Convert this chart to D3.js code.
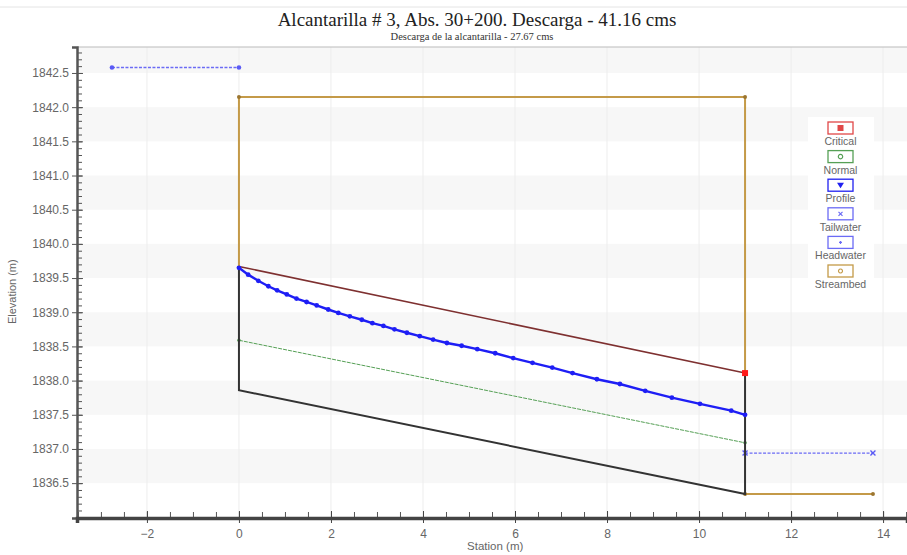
<!DOCTYPE html>
<html>
<head>
<meta charset="utf-8">
<script src="https://cdn.jsdelivr.net/npm/d3@7"></script>
<style>
  body { margin: 0; background: #fff; }
  text { font-family: "Liberation Sans", Arial, sans-serif; }
</style>
</head>
<body>
<div id="culvert_profile"></div>
<script>
// values
var profileStation = [0, 0.2, 0.42, 0.64, 0.83, 1.04, 1.25, 1.47, 1.69, 1.94, 2.16, 2.41, 2.67, 2.9, 3.14, 3.38, 3.65, 3.93, 4.22, 4.52, 4.84, 5.18, 5.57, 5.96, 6.38, 6.81, 7.25, 7.78, 8.28, 8.83, 9.41, 10.02, 10.7, 11.0];
var profileElev = [1839.65, 1839.55, 1839.46, 1839.38, 1839.32, 1839.26, 1839.20, 1839.15, 1839.10, 1839.04, 1838.99, 1838.94, 1838.89, 1838.84, 1838.80, 1838.75, 1838.70, 1838.65, 1838.60, 1838.55, 1838.51, 1838.46, 1838.40, 1838.33, 1838.26, 1838.19, 1838.11, 1838.02, 1837.95, 1837.85, 1837.75, 1837.66, 1837.56, 1837.50];

var culvertStation = [0, 0, 11, 11];
var culvertElev = [1839.67, 1837.86, 1836.34, 1838.11];
var crownStation = [0, 11];
var crownElev = [1839.67, 1838.11];

var normalStation = [0, 11];
var normalElev = [1838.59, 1837.09];
var criticalStation = [11];
var criticalElev = [1838.11];

var headwaterStation = [-2.76, 0];
var headwaterElev = [1842.58, 1842.58];
var tailwaterStation = [11, 13.78];
var tailwaterElev = [1836.94, 1836.94];

var roadStation = [0, 0, 11, 11];
var roadElev = [1839.67, 1842.15, 1842.15, 1838.11];
var channelStation = [11, 13.78];
var channelElev = [1836.34, 1836.34];

var legendLabels = ["Critical", "Normal", "Profile", "Tailwater", "Headwater", "Streambed"];
var legendColors = ["#e04848", "#56a056", "#2020f0", "#6b6bf5", "#6b6bf5", "#c49a48"];

var xTicks = [-2, 0, 2, 4, 6, 8, 10, 12, 14];
var yTicks = [1836.5, 1837.0, 1837.5, 1838.0, 1838.5, 1839.0, 1839.5, 1840.0, 1840.5, 1841.0, 1841.5, 1842.0, 1842.5];

var margin = {top: 47, right: 0, bottom: 37, left: 77},
    width = 907 - margin.left - margin.right,
    height = 555 - margin.top - margin.bottom

var root = d3.select("#culvert_profile")
    .append("svg")
        .attr("width", 907)
        .attr("height", 555)

// thin frame line at the top of the picture
root.append("line")
    .attr("x1", 0).attr("x2", 907)
    .attr("y1", 7).attr("y2", 7)
    .attr("stroke", "#e4e4e4")

root.append("text")
    .attr("x", 477).attr("y", 26)
    .attr("text-anchor", "middle")
    .style("font-family", "'Liberation Serif', 'Times New Roman', serif")
    .style("font-size", "19px")
    .attr("fill", "#222")
    .text("Alcantarilla # 3, Abs. 30+200. Descarga - 41.16 cms")

root.append("text")
    .attr("x", 472).attr("y", 40)
    .attr("text-anchor", "middle")
    .style("font-family", "'Liberation Serif', 'Times New Roman', serif")
    .style("font-size", "10.5px")
    .attr("fill", "#333")
    .text("Descarga de la alcantarilla - 27.67 cms")

var svg = root.append("g")
    .attr("transform", "translate(" + margin.left + "," + margin.top + ")");

var x = d3.scaleLinear().domain([-3.52, 14.52]).range([0, width]);
var y = d3.scaleLinear().domain([1835.99, 1842.88]).range([height, 0]);

// alternating bands
var bandEdges = [y.domain()[1]].concat(yTicks.slice().reverse());
for (var i = 0; i < bandEdges.length - 1; i++) {
    if (i % 2 == 0) {
        svg.append("rect")
            .attr("x", 0)
            .attr("width", width)
            .attr("y", y(bandEdges[i]))
            .attr("height", y(bandEdges[i + 1]) - y(bandEdges[i]))
            .attr("fill", "#f7f7f7")
    }
}

// vertical grid
svg.selectAll(".vgrid")
    .data(xTicks)
    .enter()
    .append("line")
        .attr("x1", function(d) { return x(d) })
        .attr("x2", function(d) { return x(d) })
        .attr("y1", 0).attr("y2", height)
        .attr("stroke", "#ededed")

svg.append("line")
    .attr("x1", 0).attr("x2", width)
    .attr("y1", 0).attr("y2", 0)
    .attr("stroke", "#bbb")

var line = d3.line()
    .x(function(d) { return x(d[0]) })
    .y(function(d) { return y(d[1]) });

function pts(xs, ys) { return xs.map(function(v, i) { return [v, ys[i]] }) }

// headwater and tailwater
svg.append("path")
    .datum(pts(headwaterStation, headwaterElev))
    .attr("d", line)
    .attr("fill", "none")
    .attr("stroke", "#6b6bf5")
    .attr("stroke-width", 1.3)
    .attr("stroke-dasharray", "3,1.5")
svg.selectAll(".hw")
    .data(pts(headwaterStation, headwaterElev))
    .enter()
    .append("circle")
        .attr("cx", function(d) { return x(d[0]) })
        .attr("cy", function(d) { return y(d[1]) })
        .attr("r", 2.3)
        .attr("fill", "#5a5af5")

svg.append("path")
    .datum(pts(tailwaterStation, tailwaterElev))
    .attr("d", line)
    .attr("fill", "none")
    .attr("stroke", "#6b6bf5")
    .attr("stroke-width", 1.3)
    .attr("stroke-dasharray", "3,1.5")
svg.selectAll(".tw")
    .data(pts(tailwaterStation, tailwaterElev))
    .enter()
    .append("path")
        .attr("transform", function(d) { return "translate(" + x(d[0]) + "," + y(d[1]) + ")" })
        .attr("d", "M-2.5,-2.5L2.5,2.5M-2.5,2.5L2.5,-2.5")
        .attr("stroke", "#5a5af5")
        .attr("stroke-width", 1.3)

// streambed / embankment
svg.append("path")
    .datum(pts(roadStation, roadElev))
    .attr("d", line)
    .attr("fill", "none")
    .attr("stroke", "#c49a48")
    .attr("stroke-width", 2)
svg.append("path")
    .datum(pts(channelStation, channelElev))
    .attr("d", line)
    .attr("fill", "none")
    .attr("stroke", "#c49a48")
    .attr("stroke-width", 2)
svg.selectAll(".sb")
    .data(pts(roadStation, roadElev).slice(1, 3).concat(pts(channelStation, channelElev)))
    .enter()
    .append("circle")
        .attr("cx", function(d) { return x(d[0]) })
        .attr("cy", function(d) { return y(d[1]) })
        .attr("r", 2)
        .attr("fill", "#9c7630")

// normal depth
svg.append("path")
    .datum(pts(normalStation, normalElev))
    .attr("d", line)
    .attr("fill", "none")
    .attr("stroke", "#56a056")
    .attr("stroke-width", 1)
    .attr("stroke-dasharray", "4,1")
svg.selectAll(".nd")
    .data(pts(normalStation, normalElev))
    .enter()
    .append("circle")
        .attr("cx", function(d) { return x(d[0]) })
        .attr("cy", function(d) { return y(d[1]) })
        .attr("r", 1.8)
        .attr("fill", "#56a056")

// culvert barrel
svg.append("path")
    .datum(pts(culvertStation, culvertElev))
    .attr("d", line)
    .attr("fill", "none")
    .attr("stroke", "#333")
    .attr("stroke-width", 2)
svg.append("path")
    .datum(pts(crownStation, crownElev))
    .attr("d", line)
    .attr("fill", "none")
    .attr("stroke", "#7e3030")
    .attr("stroke-width", 1.6)

// water surface profile
svg.append("path")
    .datum(pts(profileStation, profileElev))
    .attr("d", line)
    .attr("fill", "none")
    .attr("stroke", "#1e1ef5")
    .attr("stroke-width", 2.4)
svg.selectAll(".pr")
    .data(pts(profileStation, profileElev))
    .enter()
    .append("circle")
        .attr("cx", function(d) { return x(d[0]) })
        .attr("cy", function(d) { return y(d[1]) })
        .attr("r", 2.4)
        .attr("fill", "#1e1ef5")

svg.selectAll(".cr")
    .data(pts(criticalStation, criticalElev))
    .enter()
    .append("rect")
        .attr("x", function(d) { return x(d[0]) - 3 })
        .attr("y", function(d) { return y(d[1]) - 3 })
        .attr("width", 6).attr("height", 6)
        .attr("fill", "#ff1a1a")

// axes
var yMinor = d3.range(18360, 18429).map(function(v) { return v / 10 });
var xMinor = d3.range(-7, 30).map(function(v) { return v / 2 });

svg.append("g")
    .call(d3.axisLeft(y).tickValues(yMinor).tickSize(-5).tickFormat(""))
    .call(function(g) { g.select(".domain").remove() })
    .selectAll("line").attr("stroke", "#555")

svg.append("g")
    .call(d3.axisLeft(y).tickValues(yTicks).tickSize(5).tickPadding(3).tickFormat(d3.format(".1f")))
    .call(function(g) {
        g.select(".domain").attr("stroke", "#555").attr("stroke-width", 2.5)
        g.selectAll("line").attr("stroke", "#555").attr("x2", -5).attr("x1", 6)
        g.selectAll("text").attr("fill", "#666").style("font-size", "12px")
    })

svg.append("g")
    .attr("transform", "translate(0," + height + ")")
    .call(d3.axisBottom(x).tickValues(xMinor).tickSize(-6).tickFormat(""))
    .call(function(g) { g.select(".domain").remove() })
    .selectAll("line").attr("stroke", "#555")

svg.append("g")
    .attr("transform", "translate(0," + height + ")")
    .call(d3.axisBottom(x).tickValues(xTicks).tickSize(5).tickPadding(6).tickFormat(d3.format("d")))
    .call(function(g) {
        g.select(".domain").attr("stroke", "#444").attr("stroke-width", 3.5)
        g.selectAll("line").attr("stroke", "#444").attr("y1", -7).attr("y2", 5)
        g.selectAll("text").attr("fill", "#666").style("font-size", "12px")
    })

svg.append("text")
    .attr("text-anchor", "middle")
    .attr("x", x(5.57))
    .attr("y", height + 32)
    .attr("fill", "#666")
    .style("font-size", "11.5px")
    .text("Station (m)")

svg.append("text")
    .attr("text-anchor", "middle")
    .attr("transform", "translate(" + (-61) + "," + y(1839.3) + ") rotate(-90)")
    .attr("fill", "#666")
    .style("font-size", "11px")
    .text("Elevation (m)")

// legend
var legend = svg.append("g")
    .attr("transform", "translate(" + (808 - margin.left) + "," + (117 - margin.top) + ")");

legend.append("rect")
    .attr("width", 66).attr("height", 178)
    .attr("fill", "#fff")

var item = legend.selectAll(".item")
    .data(legendLabels)
    .enter()
    .append("g")
        .attr("transform", function(d, i) { return "translate(0," + (i * 28.6) + ")" });

item.append("rect")
    .attr("x", 20).attr("y", 5)
    .attr("width", 25).attr("height", 12)
    .attr("fill", "#fff")
    .attr("stroke", function(d, i) { return legendColors[i] })
    .attr("stroke-width", 1.3)

item.append("text")
    .attr("x", 32.5).attr("y", 28)
    .attr("text-anchor", "middle")
    .attr("fill", "#666")
    .style("font-size", "10.5px")
    .text(function(d) { return d })

var sym = [
    "M-3,-3h6v6h-6z",
    "M0,-2.2a2.2,2.2 0 1,0 0.01,0",
    "M-3.5,-2.5L3.5,-2.5L0,3z",
    "M-2,-2L2,2M-2,2L2,-2",
    "M-1.5,0H1.5M0,-1.5V1.5",
    "M0,-2a2,2 0 1,0 0.01,0"
];
item.append("path")
    .attr("transform", "translate(32.5,11)")
    .attr("d", function(d, i) { return sym[i] })
    .attr("fill", function(d, i) { return (i == 0 || i == 2) ? legendColors[i] : "none" })
    .attr("stroke", function(d, i) { return legendColors[i] })
    .attr("stroke-width", function(d, i) { return i == 0 || i == 2 ? 0 : 1.2 })
</script>
</body>
</html>
